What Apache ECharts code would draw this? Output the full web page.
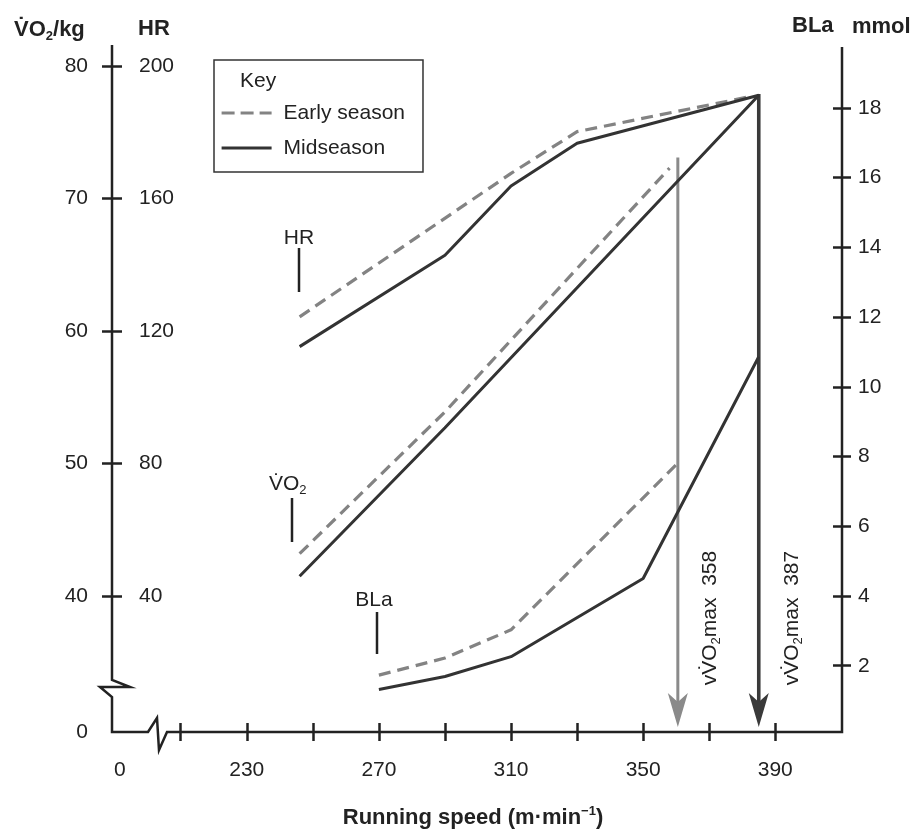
<!DOCTYPE html>
<html><head><meta charset="utf-8">
<script src="https://cdn.jsdelivr.net/npm/echarts@6/dist/echarts.min.js"></script>
<style>html,body{margin:0;padding:0;background:#fff}#c{width:917px;height:833px}</style>
</head><body><div id="c"></div>
<script>
// ---------- data ----------
const xTickValues = [210, 230, 250, 270, 290, 310, 330, 350, 370, 390];
const xLabelValues = [230, 270, 310, 350, 390];
const vo2Ticks = [40, 50, 60, 70, 80];
const hrTicks = [40, 80, 120, 160, 200];
const blaTicks = [2, 4, 6, 8, 10, 12, 14, 16, 18];

const earlyHRSpeed = [246, 310, 330, 382];
const earlyHR = [124.3, 167.6, 180.2, 190.7];
const midHRSpeed = [246, 290, 310, 330, 385];
const midHR = [115.3, 142.9, 163.8, 176.7, 191.2];

const earlyVO2Speed = [246, 290, 358];
const earlyVO2 = [43.2, 53.9, 72.3];
const midVO2Speed = [246, 290, 385];
const midVO2 = [41.5, 52.7, 77.8];

const earlyBLaSpeed = [270, 290, 310, 360.5];
const earlyBLa = [1.73, 2.22, 3.03, 7.81];
const midBLaSpeed = [270, 290, 310, 350, 385];
const midBLa = [1.32, 1.69, 2.26, 4.5, 10.86];

const vmaxSpeed = [360.5, 385];
const vmaxTopVO2 = [73.1, 77.9];
const vmaxLabels = ['358', '387'];

// ---------- axis ranges (broken axes: lowest value shown as "0") ----------
const X_MIN = 189.2, X_MAX = 410.2, X_ZERO = 191.6;
const VO2_MIN = 29.74, VO2_MAX = 81.59;
const HR_MIN = 4 * VO2_MIN - 120, HR_MAX = 4 * VO2_MAX - 120;
const BLA_MIN = 0.1, BLA_MAX = 19.8;

const G = {left: 112, top: 45, right: 842, bottom: 732};
const FONT = '"Liberation Sans", Arial, Helvetica, sans-serif';
const INK = '#222';
const EARLY = '#838383', MID = '#333333';
const EARLY_LINE = {color: EARLY, width: 3.2, type: [12, 7]};
const MID_LINE = {color: MID, width: 3};

const zip = (xs, ys) => xs.map((x, i) => [x, ys[i]]);

function lineSeries(name, xs, ys, yIdx, early) {
  return {
    name, type: 'line', xAxisIndex: 0, yAxisIndex: yIdx,
    data: zip(xs, ys), symbol: 'none', silent: true,
    lineStyle: early ? EARLY_LINE : MID_LINE,
    itemStyle: {color: early ? EARLY : MID}
  };
}

const tickStyle = {color: INK, width: 2.5};
const labelBase = {fontSize: 21, color: INK, fontFamily: FONT};

const chart = echarts.init(document.getElementById('c'), null, {renderer: 'canvas'});

const subRich = {
  a: {fontSize: 21, lineHeight: 26, fontFamily: FONT, fill: INK, color: INK},
  s: {fontSize: 13, lineHeight: 13, verticalAlign: 'bottom', fontFamily: FONT, color: INK, fill: INK}
};
const subRichBold = {
  a: {fontSize: 22, lineHeight: 26, fontWeight: 'bold', fontFamily: FONT, color: INK, fill: INK},
  s: {fontSize: 13, lineHeight: 13, fontWeight: 'bold', verticalAlign: 'bottom', fontFamily: FONT, color: INK, fill: INK}
};

const graphics = [
  // axis frame with breaks
  {type: 'polyline', z: 50, silent: true,
   shape: {points: [[G.left, G.top], [G.left, 680], [130, 687], [100, 687], [G.left, 697], [G.left, G.bottom],
                    [148, G.bottom], [157, 718], [159, 750], [167, G.bottom], [G.right, G.bottom], [G.right, G.top + 2]]},
   style: {stroke: INK, lineWidth: 2.5, fill: null, lineJoin: 'miter'}},
  // axis titles
  {type: 'text', x: 14, y: 30, z: 50, style: {text: '{a|V\u0307O}{s|2}{a|/kg}', rich: subRichBold, verticalAlign: 'middle', align: 'left'}},
  {type: 'text', x: 138, y: 29, z: 50, style: {text: 'HR', fontSize: 22, fontWeight: 'bold', fontFamily: FONT, fill: INK, verticalAlign: 'middle', align: 'left'}},
  {type: 'text', x: 792, y: 26, z: 50, style: {text: 'BLa', fontSize: 22, fontWeight: 'bold', fontFamily: FONT, fill: INK, verticalAlign: 'middle', align: 'left'}},
  {type: 'text', x: 852, y: 27, z: 50, style: {text: 'mmol', fontSize: 22, fontWeight: 'bold', fontFamily: FONT, fill: INK, verticalAlign: 'middle', align: 'left'}},
  {type: 'text', x: 473, y: 818, z: 50, style: {text: '{a|Running speed (m\u00b7min}{p|\u22121}{a|)}',
     rich: {a: {fontSize: 22, lineHeight: 26, fontWeight: 'bold', fontFamily: FONT, fill: INK, color: INK},
            p: {fontSize: 13, lineHeight: 13, fontWeight: 'bold', verticalAlign: 'top', fontFamily: FONT, fill: INK, color: INK}},
     verticalAlign: 'middle', align: 'center'}},
  // key title
  {type: 'text', x: 240, y: 81, z: 50, style: {text: 'Key', fontSize: 21, fontFamily: FONT, fill: INK, verticalAlign: 'middle', align: 'left'}},
  // curve annotations
  {type: 'text', x: 299, y: 238, z: 50, style: {text: 'HR', fontSize: 21, fontFamily: FONT, fill: INK, verticalAlign: 'middle', align: 'center'}},
  {type: 'line', z: 50, shape: {x1: 299, y1: 248, x2: 299, y2: 292}, style: {stroke: INK, lineWidth: 2.5}},
  {type: 'text', x: 269, y: 484, z: 50, style: {text: '{a|V\u0307O}{s|2}', rich: subRich, verticalAlign: 'middle', align: 'left'}},
  {type: 'line', z: 50, shape: {x1: 292, y1: 498, x2: 292, y2: 542}, style: {stroke: INK, lineWidth: 2.5}},
  {type: 'text', x: 374, y: 600, z: 50, style: {text: 'BLa', fontSize: 21, fontFamily: FONT, fill: INK, verticalAlign: 'middle', align: 'center'}},
  {type: 'line', z: 50, shape: {x1: 377, y1: 612, x2: 377, y2: 654}, style: {stroke: INK, lineWidth: 2.5}}
];

const option = {
  animation: false,
  backgroundColor: '#fff',
  grid: {left: G.left, top: G.top, right: 917 - G.right, bottom: 833 - G.bottom, containLabel: false},
  legend: {
    data: [
      {name: 'Early season', lineStyle: {color: EARLY, width: 3.2, type: [13, 6]}},
      {name: 'Midseason', lineStyle: {color: MID, width: 3.2, type: 'solid'}}
    ],
    orient: 'vertical', left: 214, top: 60,
    padding: [41, 18, 12, 6], itemWidth: 50, itemHeight: 24, itemGap: 11,
    borderColor: '#333', borderWidth: 1.5, selectedMode: false,
    itemStyle: {opacity: 0, borderWidth: 0},
    textStyle: {fontSize: 21, color: INK, fontFamily: FONT, lineHeight: 24, padding: [0, 0, 0, 7]}
  },
  xAxis: [
    {type: 'value', position: 'bottom', min: X_MIN, max: X_MAX,
     axisLine: {show: false, onZero: false}, splitLine: {show: false},
     axisTick: {show: true, length: 9, customValues: xTickValues, lineStyle: tickStyle},
     axisLabel: Object.assign({customValues: [X_ZERO].concat(xLabelValues), margin: 28,
       formatter: v => (v < 200 ? '0' : String(Math.round(v)))}, labelBase)},
    {type: 'value', position: 'bottom', min: X_MIN, max: X_MAX,
     axisLine: {show: false, onZero: false}, splitLine: {show: false},
     axisTick: {show: true, inside: true, length: 9, customValues: xTickValues, lineStyle: tickStyle},
     axisLabel: {show: false}}
  ],
  yAxis: [
    {type: 'value', position: 'left', min: VO2_MIN, max: VO2_MAX,
     axisLine: {show: false, onZero: false}, splitLine: {show: false},
     axisTick: {show: true, length: 10, customValues: vo2Ticks, lineStyle: tickStyle},
     axisLabel: Object.assign({customValues: [VO2_MIN].concat(vo2Ticks), margin: 24,
       formatter: v => (v < 35 ? '0' : String(Math.round(v)))}, labelBase)},
    {type: 'value', position: 'left', min: HR_MIN, max: HR_MAX,
     axisLine: {show: false, onZero: false}, splitLine: {show: false},
     axisTick: {show: true, inside: true, length: 10, customValues: hrTicks, lineStyle: tickStyle},
     axisLabel: Object.assign({inside: true, customValues: hrTicks, margin: 27}, labelBase)},
    {type: 'value', position: 'right', min: BLA_MIN, max: BLA_MAX,
     axisLine: {show: false, onZero: false}, splitLine: {show: false},
     axisTick: {show: true, length: 9, customValues: blaTicks, lineStyle: tickStyle},
     axisLabel: Object.assign({customValues: blaTicks, margin: 16}, labelBase)},
    {type: 'value', position: 'right', min: BLA_MIN, max: BLA_MAX,
     axisLine: {show: false, onZero: false}, splitLine: {show: false},
     axisTick: {show: true, inside: true, length: 9, customValues: blaTicks, lineStyle: tickStyle},
     axisLabel: {show: false}}
  ],
  series: [
    lineSeries('Early season', earlyHRSpeed, earlyHR, 1, true),
    lineSeries('Midseason', midHRSpeed, midHR, 1, false),
    lineSeries('Early season', earlyVO2Speed, earlyVO2, 0, true),
    lineSeries('Midseason', midVO2Speed, midVO2, 0, false),
    lineSeries('Early season', earlyBLaSpeed, earlyBLa, 2, true),
    lineSeries('Midseason', midBLaSpeed, midBLa, 2, false),
    {
      type: 'custom', name: 'vVO2max', xAxisIndex: 0, yAxisIndex: 0, silent: true, z: 3,
      data: vmaxSpeed.map((s, i) => [s, vmaxTopVO2[i], i]),
      renderItem: function (params, api) {
        const x = api.value(0);
        const top = api.coord([x, api.value(1)]);
        const base = api.coord([x, VO2_MIN]);
        const tipY = base[1] - 5;
        const early = api.value(2) === 0;
        const color = early ? '#8a8a8a' : '#3a3a3a';
        const cx = top[0];
        return {
          type: 'group',
          children: [
            {type: 'line', shape: {x1: cx, y1: top[1], x2: cx, y2: tipY - 22},
             style: {stroke: color, lineWidth: early ? 3 : 3.6}},
            {type: 'polygon', shape: {points: [[cx, tipY], [cx - 10, tipY - 34], [cx, tipY - 25], [cx + 10, tipY - 34]]},
             style: {fill: color}},
            {type: 'text', x: cx + (early ? 32 : 33), y: 618, rotation: Math.PI / 2,
             style: {text: '{a|vV\u0307O}{s|2}{a|max  ' + vmaxLabels[api.value(2)] + '}', rich: subRich,
                     align: 'center', verticalAlign: 'middle'}}
          ]
        };
      }
    }
  ],
  graphic: graphics
};
chart.setOption(option);
</script>
</body></html>
